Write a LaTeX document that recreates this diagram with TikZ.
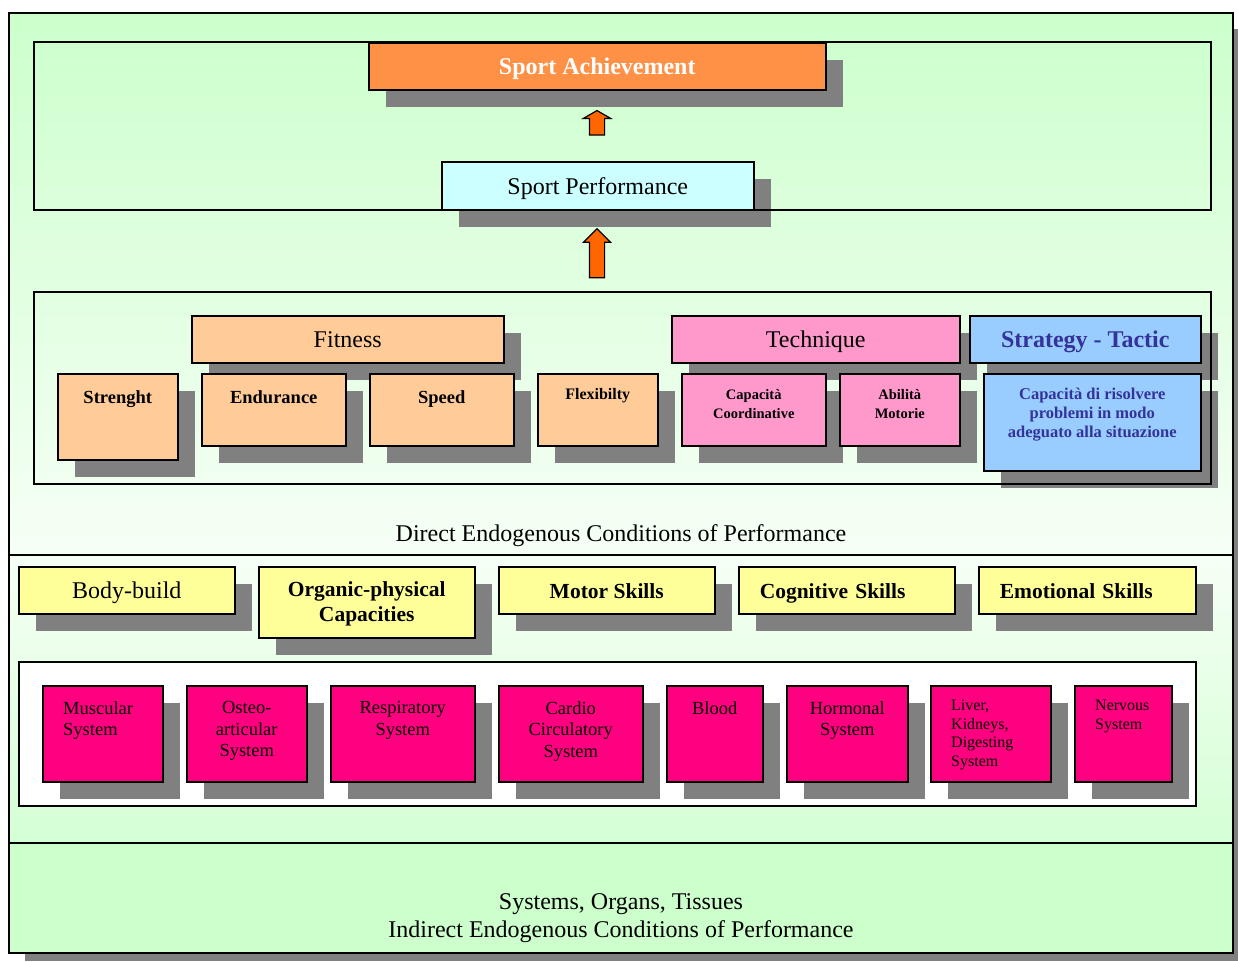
\documentclass[tikz,border=0pt]{standalone}
\usepackage{fontspec}
\setmainfont{Liberation Serif}
\usetikzlibrary{shapes.arrows,shadows}

\definecolor{bggreen}{HTML}{CCFFCC}
\definecolor{bgpale}{HTML}{F6FFF6}
\definecolor{bgmid}{HTML}{D4FFD4}
\definecolor{shadowgray}{HTML}{808080}
\definecolor{achieveor}{HTML}{FF9146}
\definecolor{perfcyan}{HTML}{CCFFFF}
\definecolor{arrowor}{HTML}{FF6600}
\definecolor{fitpeach}{HTML}{FFCC99}
\definecolor{techpink}{HTML}{FF99CC}
\definecolor{stratblue}{HTML}{99CCFF}
\definecolor{stratink}{HTML}{333399}
\definecolor{condyellow}{HTML}{FFFF99}
\definecolor{sysmagenta}{HTML}{FF0080}

\tikzset{
	pbox/.style={draw, line width=1.5pt, anchor=north west, inner sep=0pt, align=center,
		drop shadow={shadow xshift=17pt, shadow yshift=-17pt, fill=shadowgray, opacity=1}},
	zone/.style={draw, line width=1.5pt, anchor=north west, inner sep=0pt},
	midtxt/.style={text height=21pt, text depth=4.5pt},
	toplab/.style={anchor=north, yshift=#1, inner sep=0pt, align=center},
	leftlab/.style={anchor=north west, xshift=21pt, yshift=#1, inner sep=0pt, align=left},
	uparrow/.style={single arrow, draw, line width=1.2pt, fill=arrowor, rotate=90, inner sep=0pt,
		text height=14pt, text depth=0pt, text width=0pt, single arrow head extend=6pt},
	ftitle/.style={font=\fontsize{24}{28}\selectfont},
	fhead/.style={font=\fontsize{24}{28}\selectfont\bfseries},
	fcond/.style={font=\fontsize{21.5}{25}\selectfont\bfseries},
	fsub/.style={font=\fontsize{18.5}{21.7}\selectfont\bfseries},
	fsys/.style={font=\fontsize{18.5}{21.7}\selectfont},
	fsmall/.style={font=\fontsize{16}{18.4}\selectfont}
}

\begin{document}
\begin{tikzpicture}[x=1pt,y=-1pt]
	\useasboundingbox (0,0) rectangle (1238,961);
	% background
	\fill[shadowgray] (25,29) rectangle (1238,961);
	\shade[top color=bggreen, bottom color=bgpale] (9,13) rectangle (1233,555);
	\shade[top color=bgpale, bottom color=bgmid] (9,555) rectangle (1233,843);
	\fill[bggreen] (9,843) rectangle (1233,953);
	\draw[line width=1.5pt] (9,13) rectangle (1233,953);
	\draw[line width=1.5pt] (9,555) -- (1233,555) (9,843) -- (1233,843);
	\node[ftitle, midtxt] (direct) at (621,533) {Direct Endogenous Conditions of Performance};
	\node[ftitle, align=center] (indirect) at (621,918) {Systems, Organs, Tissues\\Indirect Endogenous Conditions of Performance};

	% top
	\node[pbox, fill=achieveor, minimum width=457pt, minimum height=47pt, fhead, midtxt, text=white] (achieve) at (368,42) {Sport Achievement};
	\node[pbox, fill=perfcyan, minimum width=312pt, minimum height=48pt, ftitle, midtxt] (perform) at (441,161) {Sport Performance};

	% direct conditions
	\node[pbox, fill=fitpeach, minimum width=312pt, minimum height=47pt, ftitle, midtxt] (fitness) at (191,315) {Fitness};
	\node[pbox, fill=techpink, minimum width=288pt, minimum height=47pt, ftitle, midtxt] (technique) at (671,315) {Technique};
	\node[pbox, fill=stratblue, minimum width=231pt, minimum height=47pt, fhead, midtxt, text=stratink] (strategy) at (969,315) {Strategy - Tactic};
	\node[pbox, fill=fitpeach, minimum width=120pt, minimum height=86pt, label={[toplab=-17pt, fsub]north:Strenght}] (strength) at (57,373) {};
	\node[pbox, fill=fitpeach, minimum width=144pt, minimum height=72pt, label={[toplab=-17pt, fsub]north:Endurance}] (endurance) at (201,373) {};
	\node[pbox, fill=fitpeach, minimum width=144pt, minimum height=72pt, label={[toplab=-17pt, fsub]north:Speed}] (speed) at (369,373) {};
	\node[pbox, fill=fitpeach, minimum width=120pt, minimum height=72pt, label={[toplab=-15pt, font=\fontsize{16}{19}\selectfont\bfseries]north:Flexibilty}] (flexib) at (537,373) {};
	\node[pbox, fill=techpink, minimum width=144pt, minimum height=72pt, label={[toplab=-16pt, font=\fontsize{14.5}{19}\selectfont\bfseries]north:Capacità\\Coordinative}] (coord) at (681,373) {};
	\node[pbox, fill=techpink, minimum width=120pt, minimum height=72pt, label={[toplab=-16pt, font=\fontsize{14.5}{19}\selectfont\bfseries]north:Abilità\\Motorie}] (abil) at (839,373) {};
	\node[pbox, fill=stratblue, minimum width=217pt, minimum height=97pt, label={[toplab=-15pt, font=\fontsize{16.5}{19}\selectfont\bfseries, text=stratink]north:Capacità di risolvere\\problemi in modo\\adeguato alla situazione}] (problem) at (983,373) {};

	% indirect conditions
	\node[pbox, fill=condyellow, minimum width=216pt, minimum height=47pt, ftitle, midtxt] (bodybuild) at (18,566) {Body-build};
	\node[pbox, fill=condyellow, minimum width=216pt, minimum height=71pt, fcond, label={[toplab=-15pt, fcond]north:Organic-physical\\Capacities}] (organic) at (258,566) {};
	\node[pbox, fill=condyellow, minimum width=216pt, minimum height=47pt, fcond, midtxt] (motor) at (498,566) {Motor Skills};
	\node[pbox, fill=condyellow, minimum width=216pt, minimum height=47pt, fcond, midtxt, align=left, text width=174pt, inner xsep=21pt] (cognitive) at (738,566) {Cognitive Skills};
	\node[pbox, fill=condyellow, minimum width=217pt, minimum height=47pt, fcond, midtxt, align=left, text width=175pt, inner xsep=21pt] (emotional) at (978,566) {Emotional Skills};

	% systems
	\node[zone, fill=white, minimum width=1177pt, minimum height=144pt] (syszone) at (18,661) {};
	\node[pbox, fill=sysmagenta, minimum width=120pt, minimum height=96pt, label={[leftlab=-16pt, fsys]north west:Muscular\\System}] (muscular) at (42,685) {};
	\node[pbox, fill=sysmagenta, minimum width=120pt, minimum height=96pt, label={[toplab=-16pt, fsys]north:Osteo-\\articular\\System}] (osteo) at (186,685) {};
	\node[pbox, fill=sysmagenta, minimum width=144pt, minimum height=96pt, label={[toplab=-16pt, fsys]north:Respiratory\\System}] (respir) at (330,685) {};
	\node[pbox, fill=sysmagenta, minimum width=144pt, minimum height=96pt, label={[toplab=-16pt, fsys]north:Cardio\\Circulatory\\System}] (cardio) at (498,685) {};
	\node[pbox, fill=sysmagenta, minimum width=96pt, minimum height=96pt, label={[toplab=-16pt, fsys]north:Blood}] (blood) at (666,685) {};
	\node[pbox, fill=sysmagenta, minimum width=121pt, minimum height=96pt, label={[toplab=-16pt, fsys]north:Hormonal\\System}] (hormonal) at (786,685) {};
	\node[pbox, fill=sysmagenta, minimum width=120pt, minimum height=96pt, label={[leftlab=-15pt, fsmall]north west:Liver,\\Kidneys,\\Digesting\\System}] (liver) at (930,685) {};
	\node[pbox, fill=sysmagenta, minimum width=97pt, minimum height=96pt, label={[leftlab=-15pt, font=\fontsize{16}{19.3}\selectfont]north west:Nervous\\System}] (nervous) at (1074,685) {};

	% frames over the shadows
	\node[zone, minimum width=1177pt, minimum height=168pt] (topzone) at (33,41) {};
	\node[zone, minimum width=1177pt, minimum height=192pt] (dirzone) at (33,291) {};

	% arrows
	\node[uparrow, minimum height=24.5pt, single arrow tip angle=120] (arrA) at (597,125) {};
	\node[uparrow, minimum height=49pt, single arrow tip angle=90] (arrB) at (597,257) {};
\end{tikzpicture}
\end{document}
